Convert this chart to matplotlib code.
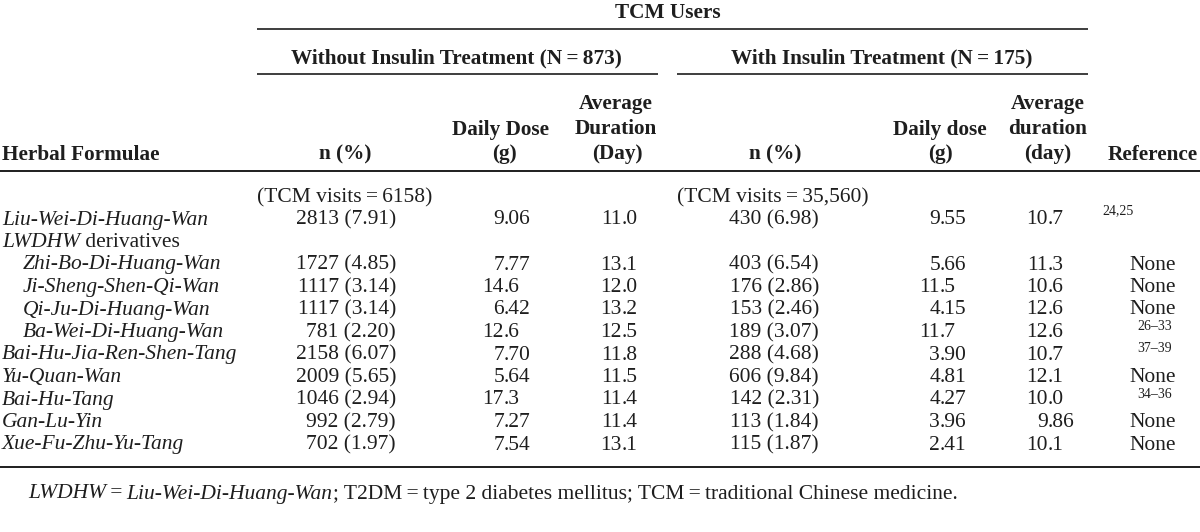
import matplotlib
matplotlib.use("Agg")
import matplotlib.pyplot as plt

# table contents
formulae = ["Liu-Wei-Di-Huang-Wan", "LWDHW derivatives", "Zhi-Bo-Di-Huang-Wan",
            "Ji-Sheng-Shen-Qi-Wan", "Qi-Ju-Di-Huang-Wan", "Ba-Wei-Di-Huang-Wan",
            "Bai-Hu-Jia-Ren-Shen-Tang", "Yu-Quan-Wan", "Bai-Hu-Tang",
            "Gan-Lu-Yin", "Xue-Fu-Zhu-Yu-Tang"]
indented = [False, False, True, True, True, True, False, False, False, False, False]

n_without = [2813, None, 1727, 1117, 1117, 781, 2158, 2009, 1046, 992, 702]
pct_without = [7.91, None, 4.85, 3.14, 3.14, 2.20, 6.07, 5.65, 2.94, 2.79, 1.97]
dose_without = [9.06, None, 7.77, 14.6, 6.42, 12.6, 7.70, 5.64, 17.3, 7.27, 7.54]
dur_without = [11.0, None, 13.1, 12.0, 13.2, 12.5, 11.8, 11.5, 11.4, 11.4, 13.1]

n_with = [430, None, 403, 176, 153, 189, 288, 606, 142, 113, 115]
pct_with = [6.98, None, 6.54, 2.86, 2.46, 3.07, 4.68, 9.84, 2.31, 1.84, 1.87]
dose_with = [9.55, None, 5.66, 11.5, 4.15, 11.7, 3.90, 4.81, 4.27, 3.96, 2.41]
dur_with = [10.7, None, 11.3, 10.6, 12.6, 12.6, 10.7, 12.1, 10.0, 9.86, 10.1]

references = ["24,25", "", "None", "None", "None", "26\u201333", "37\u201339",
              "None", "34\u201336", "None", "None"]

visits_without = "6158"
visits_with = "35,560"
n_group_without = 873
n_group_with = 175

plt.rcParams['font.family'] = ['Liberation Serif', 'DejaVu Serif']
INK = '#1e1e1e'
FS = 15.5      # body text
FB = 15.3      # bold headers
BASE = 6.5     # offset from row centre to baseline

fig = plt.figure(figsize=(12, 5.32), dpi=100)
fig.patch.set_facecolor('white')
ax = fig.add_axes([0, 0, 1, 1])
ax.set_xlim(0, 1200)
ax.set_ylim(532, 0)
ax.axis('off')
fig.canvas.draw()
renderer = fig.canvas.get_renderer()


def txt(x, y, s, ha='left', bold=False, italic=False, size=None):
    if size is None:
        size = FB if bold else FS
    return ax.text(x, y + BASE, s, ha=ha, va='baseline', color=INK, fontsize=size,
                   fontweight='bold' if bold else 'normal',
                   fontstyle='italic' if italic else 'normal')


def runs(x, y, parts):
    for s, it in parts:
        t = txt(x, y, s, italic=it)
        x += t.get_window_extent(renderer).width


def dec(x, y, v):
    # decimal-aligned number
    s = format(v, '#.3g')
    a, b = s.split('.')
    txt(x, y, a, ha='right')
    txt(x, y, '.' + b)


def rule(y, x0, x1, lw=1.2):
    ax.plot([x0, x1], [y, y], color=INK, lw=lw, solid_capstyle='butt')


# header
txt(668, 12, "TCM Users", ha='center', bold=True)
rule(29, 257, 1088)
txt(456, 57, f"Without Insulin Treatment (N\u2009=\u2009{n_group_without})", ha='center', bold=True)
txt(882, 57, f"With Insulin Treatment (N\u2009=\u2009{n_group_with})", ha='center', bold=True)
rule(74, 257, 658)
rule(74, 677, 1088)

h1, h2, h3 = 103, 128, 153
txt(2, h3, "Herbal Formulae", bold=True)
txt(345, h3, "n (%)", ha='center', bold=True)
txt(501, h2, "Daily Dose", ha='center', bold=True)
txt(504, h3, "(g)", ha='center', bold=True)
txt(616, h1, "Average", ha='center', bold=True)
txt(616, h2, "Duration", ha='center', bold=True)
txt(617, h3, "(Day)", ha='center', bold=True)
txt(775, h3, "n (%)", ha='center', bold=True)
txt(940, h2, "Daily dose", ha='center', bold=True)
txt(940, h3, "(g)", ha='center', bold=True)
txt(1048, h1, "Average", ha='center', bold=True)
txt(1048, h2, "duration", ha='center', bold=True)
txt(1048, h3, "(day)", ha='center', bold=True)
txt(1198, h3, "Reference", ha='right', bold=True)
rule(171, 0, 1200, lw=1.4)

txt(257, 196, f"(TCM visits\u2009=\u2009{visits_without})")
txt(677, 196, f"(TCM visits\u2009=\u2009{visits_with})")

y0, step = 218, 22.5
for i, name in enumerate(formulae):
    y = y0 + i * step
    x = 23 if indented[i] else 2
    if name.startswith("LWDHW"):
        runs(x, y, [("LWDHW", True), (" derivatives", False)])
    else:
        txt(x, y, name, italic=True)
    if n_without[i] is None:
        continue
    txt(396, y, f"{n_without[i]} ({pct_without[i]:.2f})", ha='right')
    dec(504, y, dose_without[i])
    dec(622, y, dur_without[i])
    txt(819, y, f"{n_with[i]} ({pct_with[i]:.2f})", ha='right')
    dec(940, y, dose_with[i])
    dec(1048, y, dur_with[i])
    r = references[i]
    if r == "None":
        txt(1153, y, r, ha='center')
    elif r:
        if i == 0:
            txt(1118, y - 10, r, ha='center', size=10)
        else:
            txt(1155, y - 7, r, ha='center', size=10)

rule(467, 0, 1200, lw=1.4)
runs(28, 492, [("LWDHW", True), ("\u2009=\u2009", False), ("Liu-Wei-Di-Huang-Wan", True),
               ("; T2DM\u2009=\u2009type 2 diabetes mellitus; TCM\u2009=\u2009traditional Chinese medicine.", False)])

fig.savefig("out.png", dpi=100, facecolor='white')
